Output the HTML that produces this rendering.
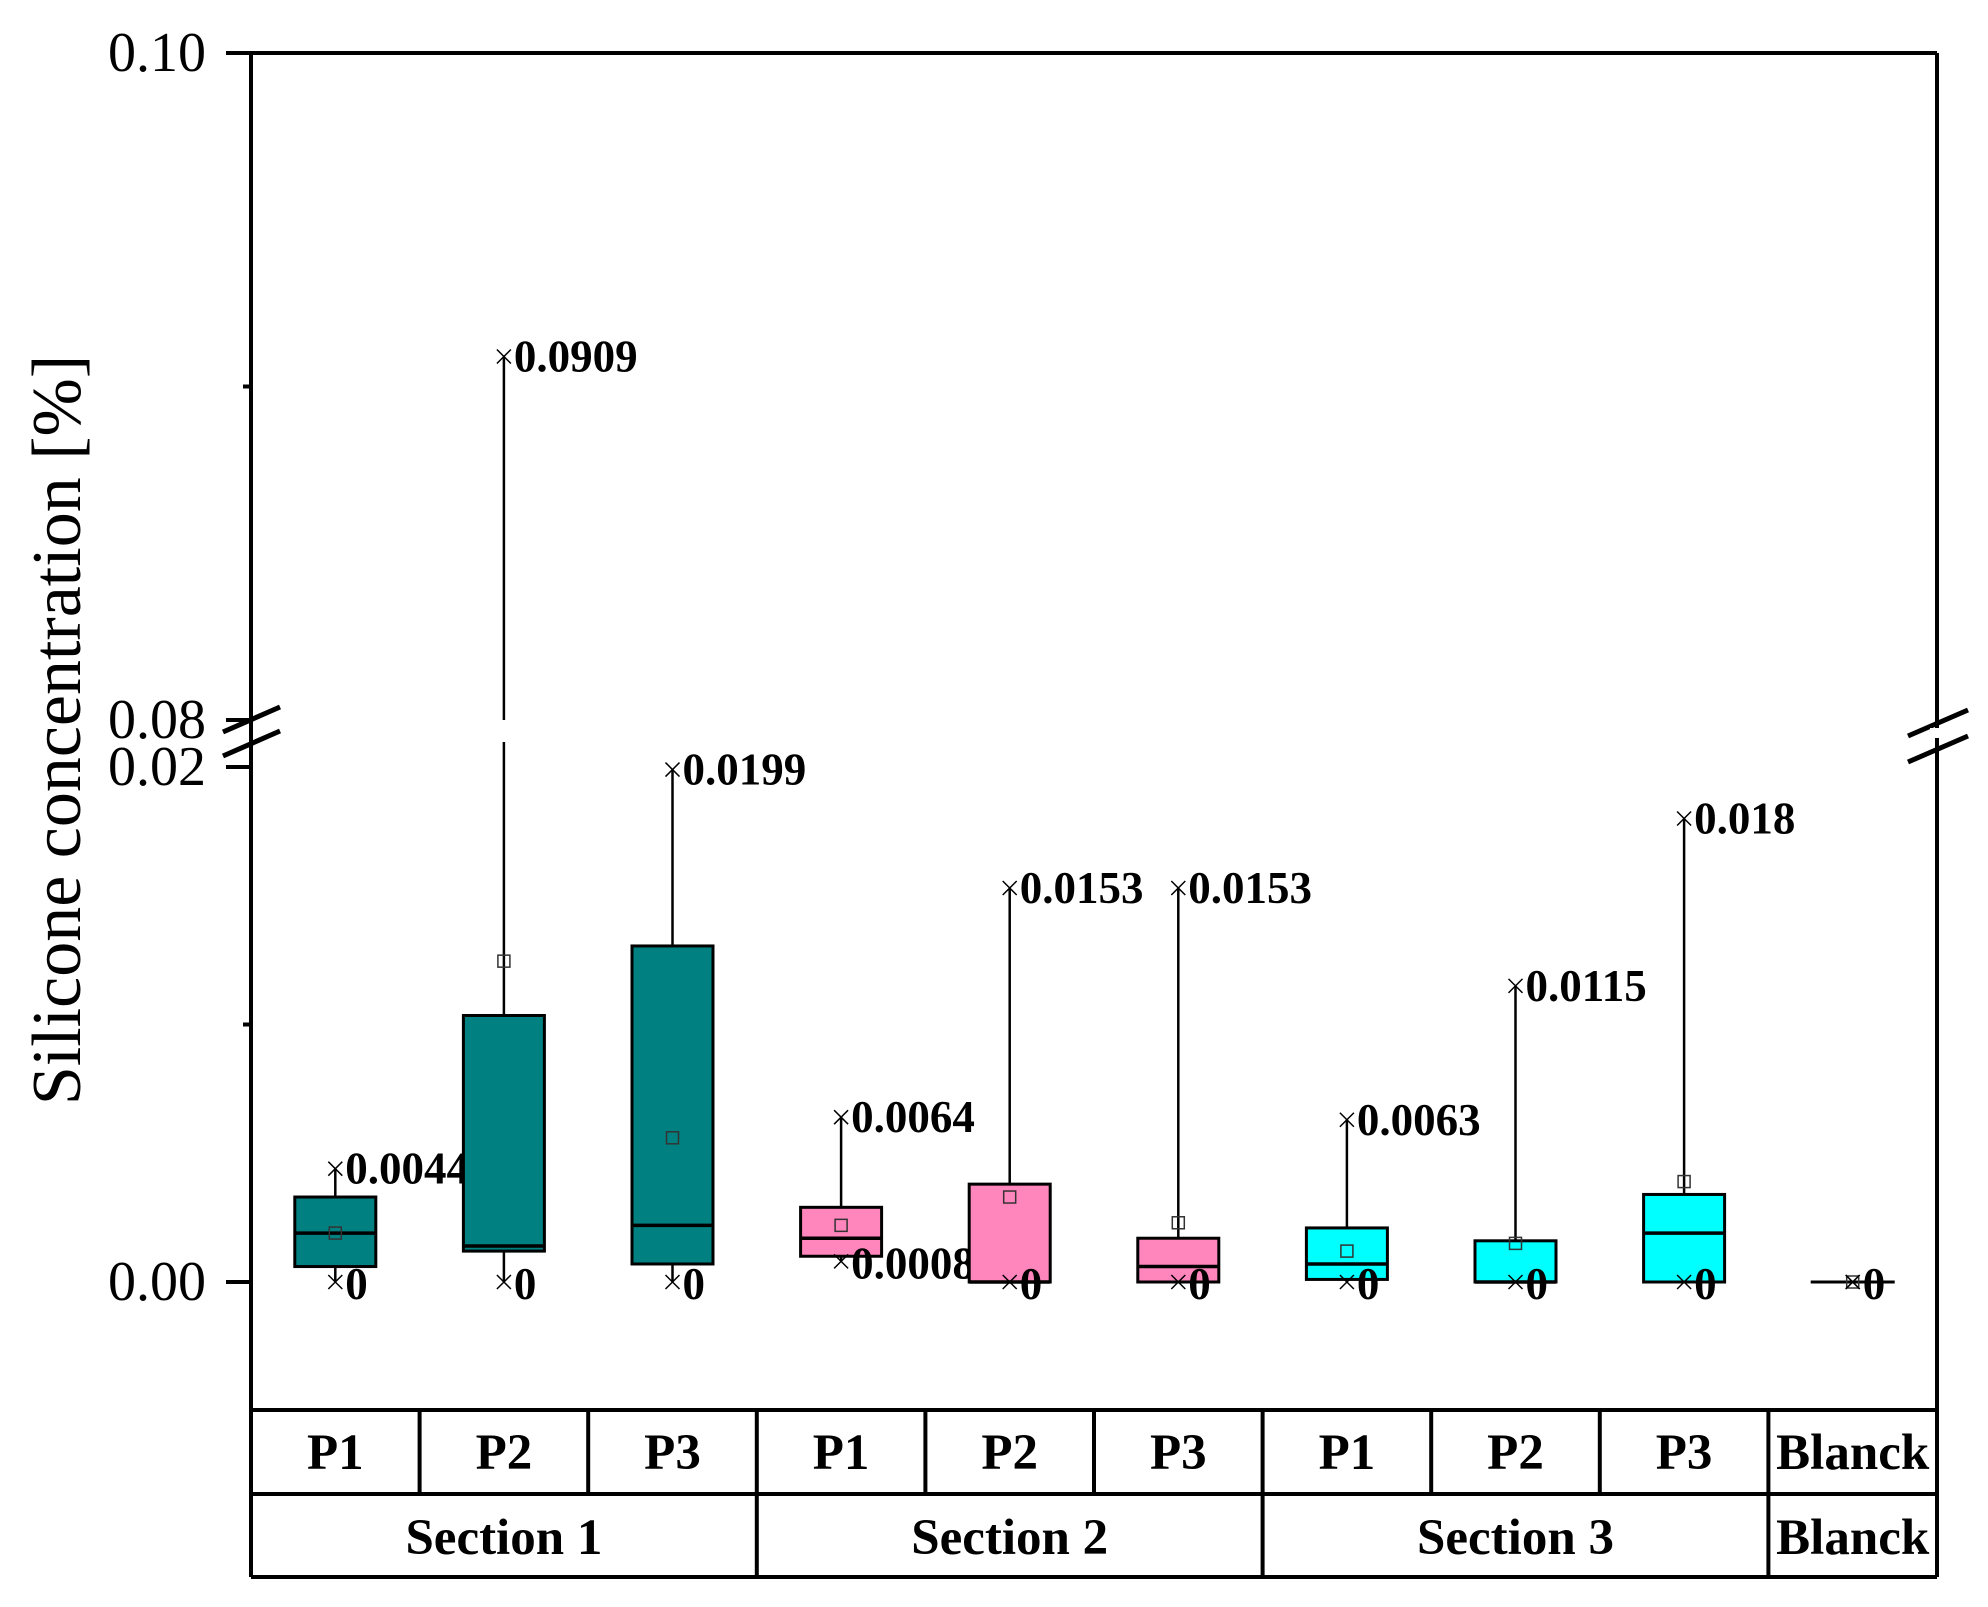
<!DOCTYPE html>
<html><head><meta charset="utf-8"><style>
html,body{margin:0;padding:0;background:#fff;}
svg{display:block;}
text{font-family:"Liberation Serif",serif;}
</style></head><body>
<svg id="chart" width="1988" height="1607" viewBox="0 0 1988 1607" xmlns="http://www.w3.org/2000/svg">
<g id="g"></g>
</svg>
<script>
const categories=["P1","P2","P3","P1","P2","P3","P1","P2","P3","Blanck"];
const sections=["Section 1","Section 2","Section 3","Blanck"];
const sectionSpans=[3,3,3,1];
const colors=["#008080","#008080","#008080","#ff85bd","#ff85bd","#ff85bd","#00ffff","#00ffff","#00ffff","#ffffff"];
const q1=[0.0006,0.0012,0.0007,0.001,0,0,0.0001,0,0,0];
const q3=[0.0033,0.01035,0.01305,0.0029,0.0038,0.0017,0.0021,0.0016,0.0034,0];
const medians=[0.0019,0.0014,0.0022,0.0017,0,0.0006,0.0007,0,0.0019,0];
const means=[0.0019,0.01246,0.0056,0.0022,0.0033,0.0023,0.0012,0.0015,0.0039,0];
const maxs=[0.0044,0.0909,0.0199,0.0064,0.0153,0.0153,0.0063,0.0115,0.018,0];
const mins=[0,0,0,0.0008,0,0,0,0,0,0];
const maxLabels=["0.0044","0.0909","0.0199","0.0064","0.0153","0.0153","0.0063","0.0115","0.018",""];
const minLabels=["0","0","0","0.0008","0","0","0","0","0","0"];
const ticks=[0,0.02,0.08,0.1];
const tickLabels=["0.00","0.02","0.08","0.10"];
const minorTicks=[0.01,0.09];

const NS="http://www.w3.org/2000/svg";
const g=document.getElementById('g');
const L=251,R=1937,T=53,B=1410;
const step=(R-L)/categories.length;
function y(v){
  if(v>=0.08) return 720-(v-0.08)/0.02*667;
  return 1282-v/0.02*515;
}
function xc(i){return L+step*(i+0.5);}
function el(tag,attrs,name,txt){
  const e=document.createElementNS(NS,tag);
  for(const k in attrs)e.setAttribute(k,attrs[k]);
  
  
  if(txt!==undefined)e.textContent=txt;
  g.appendChild(e);return e;
}
const SW=4;
el('line',{x1:L,y1:T,x2:R,y2:T,stroke:'#000','stroke-width':SW},'top-axis');
el('line',{x1:R,y1:T,x2:R,y2:B,stroke:'#000','stroke-width':SW},'right-axis');
el('line',{x1:L,y1:T,x2:L,y2:B,stroke:'#000','stroke-width':SW},'y-axis');
el('line',{x1:L,y1:B,x2:R,y2:B,stroke:'#000','stroke-width':SW},'x-axis');
ticks.forEach((t,i)=>{
  const yy=y(t);
  el('line',{x1:L-25,y1:yy,x2:L,y2:yy,stroke:'#000','stroke-width':SW},'y-tick');
  el('text',{x:L-45,y:yy+18,'font-size':56,'text-anchor':'end'},'y-tick-label',tickLabels[i]);
});
minorTicks.forEach(t=>{
  el('line',{x1:L-8,y1:y(t),x2:L,y2:y(t),stroke:'#000','stroke-width':SW},'y-minor-tick');
});
[[223,732,280,707],[223,756,280,731],[1908,736,1968,710],[1908,762,1968,736]].forEach(a=>{
  el('line',{x1:a[0],y1:a[1],x2:a[2],y2:a[3],stroke:'#000','stroke-width':5},'axis-break-mark');
});
el('rect',{x:1930,y:728,width:14,height:10,fill:'#fff'},'axis-break-gap');
el('text',{x:0,y:0,'font-size':70,'text-anchor':'middle',transform:'translate(80,730) rotate(-90)'},'y-axis-title','Silicone concentration [%]');
categories.forEach((c,i)=>{
  const cx=xc(i),w=81;
  if(maxs[i]>0.02){
    el('line',{x1:cx,y1:y(q3[i]),x2:cx,y2:742,stroke:'#000','stroke-width':2.5},'whisker-upper');
    el('line',{x1:cx,y1:720,x2:cx,y2:y(maxs[i]),stroke:'#000','stroke-width':2.5},'whisker-upper-broken');
  } else {
    el('line',{x1:cx,y1:y(q3[i]),x2:cx,y2:y(maxs[i]),stroke:'#000','stroke-width':2.5},'whisker-upper');
  }
  el('line',{x1:cx,y1:y(q1[i]),x2:cx,y2:y(mins[i]),stroke:'#000','stroke-width':2.5},'whisker-lower');
  if(c==="Blanck"){
    el('line',{x1:cx-42,y1:y(0),x2:cx+42,y2:y(0),stroke:'#000','stroke-width':3},'blank-box');
  } else {
    el('rect',{x:cx-w/2,y:y(q3[i]),width:w,height:Math.max(1,y(q1[i])-y(q3[i])),fill:colors[i],stroke:'#000','stroke-width':3},'box-'+i);
    el('line',{x1:cx-w/2,y1:y(medians[i]),x2:cx+w/2,y2:y(medians[i]),stroke:'#000','stroke-width':3.5},'median-line');
  }
  el('rect',{x:cx-6,y:y(means[i])-6,width:12,height:12,fill:'none',stroke:'#333','stroke-width':1.5},'mean-marker');
  [maxs[i],mins[i]].forEach(v=>{
    const yy=y(v);
    el('path',{d:`M${cx-7} ${yy-7}L${cx+7} ${yy+7}M${cx-7} ${yy+7}L${cx+7} ${yy-7}`,stroke:'#000','stroke-width':1.5},'extreme-marker');
  });
  if(maxLabels[i]) el('text',{x:cx+10,y:y(maxs[i])+15,'font-size':45,'font-weight':'bold'},'max-label',maxLabels[i]);
  el('text',{x:cx+10,y:y(mins[i])+17,'font-size':45,'font-weight':'bold'},'min-label',minLabels[i]);
});
const r1=1494,r2=1577;
el('line',{x1:L,y1:r1,x2:R,y2:r1,stroke:'#000','stroke-width':SW},'table-row-line');
el('line',{x1:L,y1:r2,x2:R,y2:r2,stroke:'#000','stroke-width':SW},'table-bottom-line');
el('line',{x1:L,y1:B,x2:L,y2:r2,stroke:'#000','stroke-width':SW},'table-left');
el('line',{x1:R,y1:B,x2:R,y2:r2,stroke:'#000','stroke-width':SW},'table-right');
categories.forEach((c,i)=>{
  if(i>0) el('line',{x1:L+step*i,y1:B,x2:L+step*i,y2:r1,stroke:'#000','stroke-width':SW},'table-divider');
  el('text',{x:xc(i),y:1469,'font-size':51,'font-weight':'bold','text-anchor':'middle'},'category-label',c);
});
let start=0;
sections.forEach((s,j)=>{
  const x0=L+step*start,x1=L+step*(start+sectionSpans[j]);
  if(start>0) el('line',{x1:x0,y1:r1,x2:x0,y2:r2,stroke:'#000','stroke-width':SW},'section-divider');
  el('text',{x:(x0+x1)/2,y:1554,'font-size':51,'font-weight':'bold','text-anchor':'middle'},'section-label',s);
  start+=sectionSpans[j];
});
</script>
</body></html>
